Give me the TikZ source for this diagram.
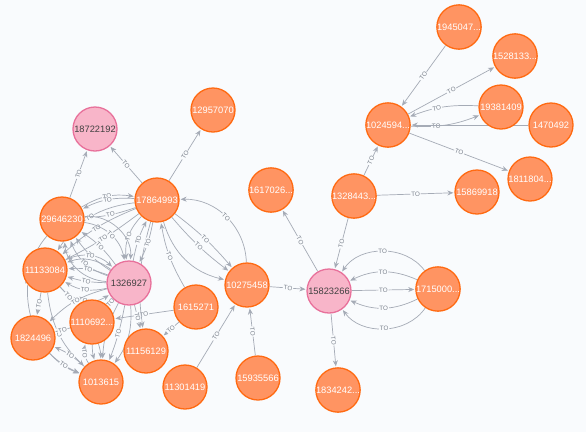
\documentclass[tikz,border=0pt]{standalone}
\usepackage{fontspec}
\setmainfont{Liberation Sans}
\usetikzlibrary{arrows.meta}

\definecolor{bgcol}{HTML}{F9FBFD}
\definecolor{orfill}{HTML}{FF9462}
\definecolor{ordraw}{HTML}{FF6A12}
\definecolor{pkfill}{HTML}{F8B5C9}
\definecolor{pkdraw}{HTML}{E8719B}
\definecolor{relcol}{HTML}{A5ABB6}
\definecolor{lblcol}{HTML}{7A818C}

\pgfdeclarelayer{bglayer}
\pgfdeclarelayer{edges}
\pgfsetlayers{bglayer,edges,main}

\tikzset{
  onode/.style={circle, draw=ordraw, fill=orfill, line width=1.3pt, minimum size=44pt, inner sep=0pt, text=white, font=\fontsize{9.3}{10}\selectfont},
  pnode/.style={circle, draw=pkdraw, fill=pkfill, line width=1.3pt, minimum size=44pt, inner sep=0pt, text=black!75, font=\fontsize{9.3}{10}\selectfont},
  rel/.style={draw=relcol, line width=0.7pt, -{Stealth[length=6pt,width=5pt]}, shorten >=1pt},
  lbl/.style={sloped, fill=bgcol, inner sep=0.8pt, text=lblcol, font=\fontsize{6.3}{7}\selectfont}
}

\begin{document}
\begin{tikzpicture}[x=1pt, y=-1pt]

    \begin{pgfonlayer}{bglayer}
        \fill[bgcol] (0,0) rectangle (586,432);
    \end{pgfonlayer}
    \useasboundingbox (0,0) rectangle (586,432);

    % right cluster
    \node (n1945047) at (459, 27) [onode] {1945047...};
    \node (n1528133) at (515, 56) [onode] {1528133...};
    \node (n19381409) at (501, 107) [onode] {19381409};
    \node (n1470492) at (551, 125) [onode] {1470492};
    \node (n1024594) at (388, 125) [onode] {1024594...};
    \node (n1811804) at (530, 179) [onode] {1811804...};
    \node (n15869918) at (477, 192) [onode] {15869918};
    \node (n1328443) at (354, 196) [onode] {1328443...};
    \node (n1617026) at (271, 190) [onode] {1617026...};
    \node (n15823266) at (329, 291) [pnode] {15823266};
    \node (n1715000) at (438, 289) [onode] {1715000...};
    \node (n1834242) at (338, 390) [onode] {1834242...};

    % left cluster
    \node (n18722192) at (95, 129) [pnode] {18722192};
    \node (n12957070) at (213, 110) [onode] {12957070};
    \node (n17864993) at (157, 200) [onode] {17864993};
    \node (n29646230) at (62, 219) [onode] {29646230};
    \node (n11133084) at (45, 270) [onode] {11133084};
    \node (n1326927) at (129, 283) [pnode] {1326927};
    \node (n10275458) at (247, 285) [onode] {10275458};
    \node (n1615271) at (196, 307) [onode] {1615271};
    \node (n1110692) at (92, 322) [onode] {1110692...};
    \node (n1824496) at (33, 338) [onode] {1824496};
    \node (n11156129) at (146, 351) [onode] {11156129};
    \node (n1013615) at (101, 382) [onode] {1013615};
    \node (n11301419) at (185, 387) [onode] {11301419};
    \node (n15935566) at (258, 378) [onode] {15935566};

    \begin{pgfonlayer}{edges}
    \draw[rel] (n1945047) -- node[lbl] {TO} (n1024594);
    \draw[rel] (n1024594) -- node[lbl] {TO} (n1528133);
    \draw[rel] (n19381409) to[bend right=12] node[lbl, pos=0.6] {TO} (n1024594);
    \draw[rel] (n1024594) to[bend right=12] node[lbl, pos=0.35] {TO} (n19381409);
    \draw[rel] (n1470492) -- node[lbl, pos=0.2] {TO} (n1024594);
    \draw[rel] (n1024594) -- node[lbl] {TO} (n1811804);
    \draw[rel] (n1328443) -- node[lbl] {TO} (n1024594);
    \draw[rel] (n1328443) -- node[lbl] {TO} (n15869918);
    \draw[rel] (n1328443) -- node[lbl] {TO} (n15823266);
    \draw[rel] (n15823266) -- node[lbl] {TO} (n1617026);
    \draw[rel] (n10275458) -- node[lbl] {TO} (n15823266);
    \draw[rel] (n15823266) -- node[lbl] {TO} (n1715000);
    \draw[rel] (n1715000) to[bend right=25] node[lbl] {TO} (n15823266);
    \draw[rel] (n1715000) to[bend right=55] node[lbl] {TO} (n15823266);
    \draw[rel] (n1715000) to[bend left=25] node[lbl] {TO} (n15823266);
    \draw[rel] (n1715000) to[bend left=55] node[lbl] {TO} (n15823266);
    \draw[rel] (n15823266) -- node[lbl] {TO} (n1834242);

    \draw[rel] (n15935566) -- node[lbl] {TO} (n10275458);
    \draw[rel] (n11301419) -- node[lbl] {TO} (n10275458);
    \draw[rel] (n17864993) -- node[lbl] {TO} (n18722192);
    \draw[rel] (n17864993) -- node[lbl] {TO} (n12957070);
    \draw[rel] (n29646230) -- node[lbl] {TO} (n18722192);
    \draw[rel] (n10275458) to[bend right=45] node[lbl] {TO} (n17864993);
    \draw[rel] (n17864993) to[bend left=6] node[lbl] {TO} (n10275458);
    \draw[rel] (n17864993) to[bend right=6] node[lbl] {TO} (n10275458);
    \draw[rel] (n17864993) to[bend right=30] (n10275458);
    \draw[rel] (n1615271) -- node[lbl] {TO} (n1110692);
    \draw[rel] (n1615271) -- node[lbl] {TO} (n11156129);
    \draw[rel] (n1615271) to[bend left=10] node[lbl] {TO} (n17864993);
    \draw[rel] (n17864993) to[bend right=12] node[lbl] {TO} (n11156129);

    % dense part round 1326927
    \draw[rel] (n1326927) to[bend left=8] node[lbl] {TO} (n17864993);
    \draw[rel] (n17864993) to[bend left=8] node[lbl] {TO} (n1326927);
    \draw[rel] (n17864993) to[bend right=25] node[lbl] {TO} (n1326927);
    \draw[rel] (n29646230) to[bend left=20] node[lbl] {TO} (n17864993);
    \draw[rel] (n17864993) to[bend left=8] node[lbl] {TO} (n29646230);
    \draw[rel] (n17864993) to[bend right=15] node[lbl] {TO} (n29646230);
    \draw[rel] (n17864993) to[bend right=10] node[lbl] {TO} (n11133084);
    \draw[rel] (n17864993) to[bend right=25] node[lbl] {TO} (n11133084);
    \draw[rel] (n17864993) to[bend left=5] node[lbl] {TO} (n11133084);
    \draw[rel] (n1326927) to[bend left=10] node[lbl] {TO} (n29646230);
    \draw[rel] (n1326927) to[bend left=25] node[lbl] {TO} (n29646230);
    \draw[rel] (n1326927) to[bend left=40] (n29646230);
    \draw[rel] (n1326927) to[bend right=10] node[lbl] {TO} (n29646230);
    \draw[rel] (n29646230) to[bend left=35] node[lbl] {TO} (n1326927);
    \draw[rel] (n29646230) to[bend left=50] (n1326927);
    \draw[rel] (n1326927) to[bend left=8] node[lbl] {TO} (n11133084);
    \draw[rel] (n1326927) to[bend left=22] node[lbl] {TO} (n11133084);
    \draw[rel] (n1326927) to[bend right=12] node[lbl] {TO} (n11133084);
    \draw[rel] (n1326927) to[bend right=28] (n11133084);
    \draw[rel] (n11133084) to[bend left=35] node[lbl] {TO} (n1326927);
    \draw[rel] (n11133084) to[bend right=40] node[lbl] {TO} (n1326927);
    \draw[rel] (n11133084) -- node[lbl] {TO} (n1824496);
    \draw[rel] (n11133084) -- node[lbl] {TO} (n1110692);
    \draw[rel] (n11133084) to[bend right=20] node[lbl] {TO} (n1013615);
    \draw[rel] (n29646230) to[bend right=55] node[lbl, pos=0.3] {TO} (n1013615);
    \draw[rel] (n1326927) -- node[lbl] {TO} (n1110692);
    \draw[rel] (n1326927) to[bend right=15] node[lbl] {TO} (n1824496);
    \draw[rel] (n1326927) to[bend left=5] node[lbl] {TO} (n1013615);
    \draw[rel] (n1326927) to[bend right=12] node[lbl] {TO} (n1013615);
    \draw[rel] (n1326927) to[bend left=20] (n1013615);
    \draw[rel] (n1326927) -- node[lbl] {TO} (n11156129);
    \draw[rel] (n1110692) to[bend left=8] (n1013615);
    \draw[rel] (n1110692) to[bend right=8] (n1013615);
    \draw[rel] (n1013615) to[bend left=25] node[lbl] {TO} (n1110692);
    \draw[rel] (n1110692) -- node[lbl] {TO} (n1824496);
    \draw[rel] (n1013615) to[bend right=10] node[lbl] {TO} (n1824496);
    \draw[rel] (n1824496) to[bend right=10] node[lbl] {TO} (n1013615);
    \end{pgfonlayer}

\end{tikzpicture}
\end{document}
